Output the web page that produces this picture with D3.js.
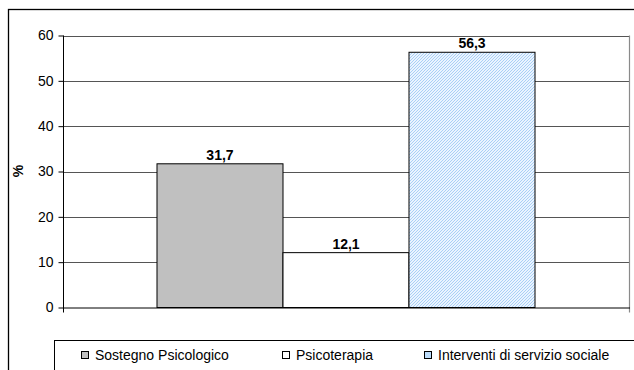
<!DOCTYPE html>
<html><head><meta charset="utf-8">
<script src="https://cdn.jsdelivr.net/npm/d3@7"></script>
<style>body{margin:0;background:#fff}svg{display:block;font-family:"Liberation Sans",Arial,sans-serif}</style>
</head><body><svg id="c" width="634" height="370"></svg>
<script>
const categories = ["Sostegno Psicologico", "Psicoterapia", "Interventi di servizio sociale"];
const values = [31.7, 12.1, 56.3];
const yTicks = [0, 10, 20, 30, 40, 50, 60];
const yLabel = "%";

const svg = d3.select("#c");
const fills = ["#c0c0c0", "#ffffff", "url(#hatch)"];
const FS = 14;

const defs = svg.append("defs");
const pat = defs.append("pattern").attr("id", "hatch").attr("patternUnits", "userSpaceOnUse")
  .attr("width", 3).attr("height", 3);
pat.append("rect").attr("width", 3).attr("height", 3).attr("fill", "#eaf4ff");
pat.append("path").attr("d", "M-1,1 l2,-2 M0,3 l3,-3 M2,4 l2,-2")
  .attr("stroke", "#a9cff5").attr("stroke-width", 1);

// outer frame
svg.append("rect").attr("x", 8.5).attr("y", 9.5).attr("width", 700).attr("height", 500)
  .attr("fill", "none").attr("stroke", "#000").attr("stroke-width", 1.3);

const plotL = 63, plotR = 629, plotT = 35.5, plotB = 307.5;
const y = d3.scaleLinear().domain([0, 60]).range([plotB, plotT]);
const x = d3.scaleBand().domain(categories).range([plotL, plotR]).paddingInner(0).paddingOuter(0.746);

// gridlines
svg.append("g").selectAll("line").data(yTicks.filter(t => t > 0)).join("line")
  .attr("x1", plotL).attr("x2", plotR)
  .attr("y1", d => Math.round(y(d)) + 0.5).attr("y2", d => Math.round(y(d)) + 0.5)
  .attr("stroke", "#555").attr("stroke-width", 1);
// right border of plot
svg.append("line").attr("x1", plotR + 0.5).attr("x2", plotR + 0.5).attr("y1", plotT).attr("y2", plotB + 5)
  .attr("stroke", "#8a8a8a").attr("stroke-width", 1.2);

// bars
svg.append("g").selectAll("rect").data(values).join("rect")
  .attr("x", (d, i) => x(categories[i]))
  .attr("y", d => y(d))
  .attr("width", x.bandwidth())
  .attr("height", d => y(0) - y(d))
  .attr("fill", (d, i) => fills[i])
  .attr("stroke", "#000").attr("stroke-width", 1);

// value labels
svg.append("g").selectAll("text").data(values).join("text")
  .attr("x", (d, i) => x(categories[i]) + x.bandwidth() / 2)
  .attr("y", d => y(d) - 4)
  .attr("text-anchor", "middle").attr("font-weight", "bold").attr("font-size", FS)
  .text(d => d.toFixed(1).replace(".", ","));

// y axis
const yAxis = d3.axisLeft(y).tickValues(yTicks).tickSize(5).tickPadding(5).tickFormat(d => d);
const ya = svg.append("g").attr("transform", `translate(${plotL + 0.5},0)`).call(yAxis);
ya.select(".domain").attr("stroke", "#000").attr("d", `M0,${plotT}V${plotB + 5}`);
ya.selectAll(".tick line").attr("stroke", "#000");
ya.selectAll("text").attr("font-size", FS).attr("font-family", "Liberation Sans, Arial, sans-serif").attr("fill", "#000");

// x axis baseline
svg.append("line").attr("x1", plotL).attr("x2", plotR + 1).attr("y1", plotB + 0.5).attr("y2", plotB + 0.5)
  .attr("stroke", "#000").attr("stroke-width", 1);

// y label
svg.append("text").attr("transform", "translate(23,171) rotate(-90)")
  .attr("text-anchor", "middle").attr("font-weight", "bold").attr("font-size", FS).text(yLabel);

// legend
svg.append("rect").attr("x", 54.5).attr("y", 340.5).attr("width", 700).attr("height", 100)
  .attr("fill", "none").attr("stroke", "#000").attr("stroke-width", 1);
const legX = [81.5, 282.5, 424.5];
const lg = svg.append("g").selectAll("g").data(categories).join("g")
  .attr("transform", (d, i) => `translate(${legX[i]},351.5)`);
lg.append("rect").attr("width", 7).attr("height", 7)
  .attr("fill", (d, i) => i === 2 ? "#bcdcfa" : fills[i]).attr("stroke", "#000").attr("stroke-width", 1);
lg.append("text").attr("x", 13.5).attr("y", 8).attr("font-size", FS).text(d => d);
</script></body></html>
